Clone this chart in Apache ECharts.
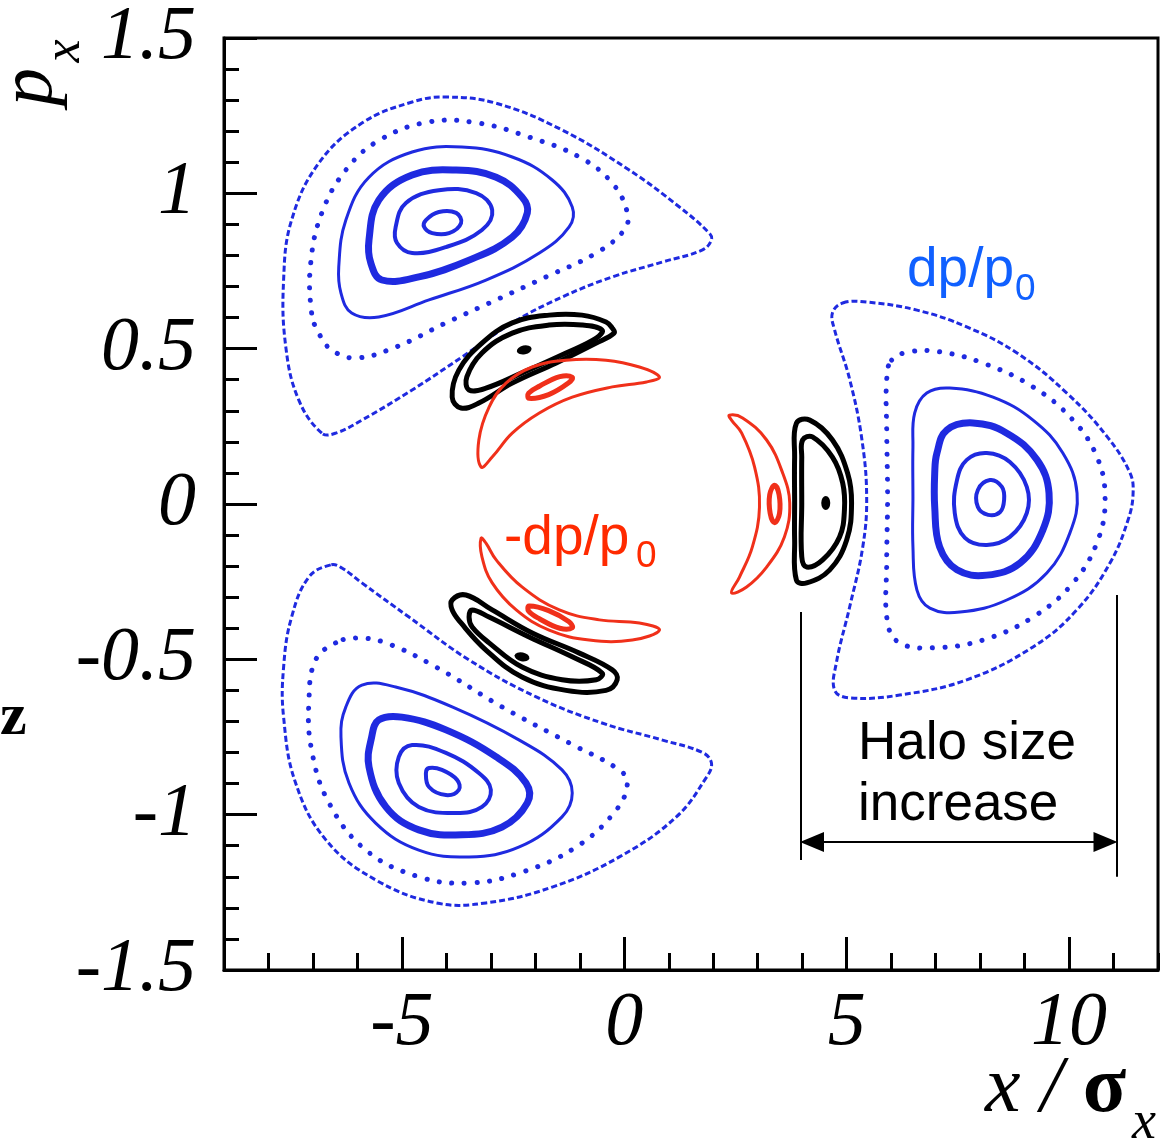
<!DOCTYPE html>
<html><head><meta charset="utf-8">
<script src="https://cdn.jsdelivr.net/npm/echarts@6/dist/echarts.min.js"></script>
<style>html,body{margin:0;padding:0;background:#fff}#c{width:1170px;height:1143px}</style>
</head><body><div id="c"></div><script>
// ---------- axis ticks ----------
const xMajorTicks = [-5, 0, 5, 10];
const yTickValues = [-1.5, -1, -0.5, 0, 0.5, 1, 1.5];

// ---------- blue (dp/p0) orbits: right island ----------
const bR1 = [[8.22,0.077],[8.49,0.055],[8.54,0.013],[8.45,-0.026],[8.18,-0.035],[7.95,-0.01],[7.95,0.045]];
const bR2 = [[7.48,0.077],[7.70,0.142],[8.15,0.164],[8.67,0.135],[9.05,0.055],[9.05,-0.029],[8.67,-0.106],[8.15,-0.132],[7.66,-0.109],[7.43,-0.029]];
const bR3 = [[7.03,0.164],[7.25,0.238],[7.84,0.261],[8.60,0.228],[9.28,0.142],[9.55,0.035],[9.41,-0.084],[8.90,-0.19],[8.15,-0.229],[7.48,-0.212],[7.09,-0.138],[6.98,-0.01],[6.98,0.10]];
const bR4 = [[6.53,0.293],[6.80,0.357],[7.32,0.373],[8.29,0.344],[9.19,0.27],[9.86,0.164],[10.18,0.035],[10.02,-0.093],[9.50,-0.222],[8.60,-0.309],[7.55,-0.348],[6.87,-0.335],[6.58,-0.277],[6.49,-0.138],[6.49,0.023],[6.49,0.183]];
const bR5 = [[6.01,0.463],[6.42,0.49],[7.09,0.49],[8.06,0.454],[9.19,0.377],[10.09,0.27],[10.63,0.151],[10.81,0.023],[10.65,-0.116],[10.09,-0.254],[9.19,-0.364],[8.06,-0.438],[6.94,-0.463],[6.19,-0.447],[5.92,-0.383],[5.90,-0.19],[5.92,0.023],[5.90,0.238],[5.90,0.40]];
const bR6 = [[4.91,0.647],[5.45,0.650],[6.58,0.624],[7.70,0.570],[8.83,0.486],[9.95,0.357],[10.86,0.216],[11.37,0.10],[11.44,0.035],[11.33,-0.05],[10.92,-0.19],[10.18,-0.34],[9.19,-0.46],[7.70,-0.566],[6.19,-0.615],[5.07,-0.624],[4.73,-0.60],[4.77,-0.51],[5.07,-0.33],[5.36,-0.14],[5.45,0.02],[5.34,0.21],[5.07,0.40],[4.73,0.56],[4.68,0.615]];

// ---------- blue orbits: upper-left island ----------
const bU1 = [[-4.46,0.914],[-4.17,0.94],[-3.78,0.937],[-3.67,0.904],[-3.94,0.872],[-4.32,0.872],[-4.50,0.892]];
const bU2 = [[-5.14,0.892],[-4.91,0.969],[-4.17,1.01],[-3.33,1.001],[-2.97,0.946],[-3.20,0.882],[-4.01,0.827],[-4.77,0.808],[-5.11,0.84]];
const bU3 = [[-5.74,0.85],[-5.52,0.978],[-4.77,1.059],[-3.78,1.075],[-2.88,1.052],[-2.30,0.988],[-2.18,0.937],[-2.52,0.859],[-3.49,0.785],[-4.62,0.731],[-5.45,0.721],[-5.70,0.776]];
const bU4 = [[-6.42,0.763],[-6.26,0.914],[-5.74,1.052],[-4.77,1.133],[-3.65,1.149],[-2.52,1.117],[-1.62,1.043],[-1.17,0.956],[-1.24,0.892],[-1.91,0.808],[-3.11,0.721],[-4.39,0.657],[-5.52,0.602],[-6.13,0.615],[-6.37,0.679]];
const bU5 = [[-7.03,0.615],[-7.05,0.776],[-6.80,0.937],[-6.26,1.075],[-5.52,1.17],[-4.39,1.23],[-3.27,1.226],[-2.14,1.181],[-1.01,1.117],[-0.27,1.033],[0.07,0.937],[0.0,0.882],[-0.63,0.808],[-1.76,0.731],[-2.88,0.657],[-4.01,0.583],[-5.14,0.505],[-6.04,0.47],[-6.58,0.496],[-6.87,0.55]];
const bU6 = [[-6.80,0.228],[-7.32,0.335],[-7.61,0.505],[-7.66,0.721],[-7.48,0.914],[-6.87,1.097],[-5.90,1.226],[-4.77,1.294],[-4.01,1.31],[-2.88,1.29],[-1.40,1.204],[0.11,1.075],[1.24,0.956],[1.91,0.872],[1.96,0.85],[1.76,0.818],[0.86,0.779],[-0.27,0.731],[-1.40,0.666],[-2.52,0.583],[-3.65,0.473],[-4.77,0.367],[-5.90,0.27],[-6.49,0.228]];

// ---------- blue orbits: lower-left island ----------
const bL1 = [[-4.46,-0.866],[-4.39,-0.911],[-4.01,-0.937],[-3.72,-0.92],[-3.76,-0.888],[-4.10,-0.856],[-4.39,-0.85]];
const bL2 = [[-5.07,-0.814],[-5.07,-0.898],[-4.62,-0.975],[-3.78,-0.995],[-3.20,-0.975],[-3.0,-0.92],[-3.27,-0.866],[-4.01,-0.801],[-4.77,-0.776]];
const bL3 = [[-5.68,-0.75],[-5.74,-0.846],[-5.36,-0.975],[-4.62,-1.049],[-3.65,-1.065],[-2.75,-1.04],[-2.18,-0.962],[-2.21,-0.898],[-2.88,-0.814],[-4.01,-0.727],[-5.0,-0.686],[-5.52,-0.695]];
const bL4 = [[-6.26,-0.653],[-6.37,-0.75],[-6.19,-0.898],[-5.59,-1.027],[-4.62,-1.114],[-3.49,-1.136],[-2.36,-1.104],[-1.40,-1.007],[-1.17,-0.93],[-1.40,-0.856],[-2.36,-0.76],[-3.87,-0.653],[-5.14,-0.589],[-5.90,-0.583]];
const bL5 = [[-6.49,-0.447],[-6.94,-0.502],[-7.09,-0.631],[-7.03,-0.792],[-6.64,-0.962],[-5.81,-1.114],[-4.62,-1.20],[-3.49,-1.22],[-2.36,-1.188],[-1.08,-1.104],[-0.18,-0.985],[0.07,-0.898],[-0.11,-0.856],[-1.24,-0.769],[-2.75,-0.653],[-4.23,-0.525],[-5.36,-0.447],[-6.04,-0.431]];
const bL6 = [[-6.60,-0.196],[-7.09,-0.235],[-7.48,-0.364],[-7.66,-0.525],[-7.66,-0.686],[-7.39,-0.898],[-6.71,-1.081],[-5.59,-1.21],[-4.23,-1.284],[-3.11,-1.284],[-1.62,-1.233],[-0.11,-1.136],[1.17,-1.007],[1.85,-0.879],[1.96,-0.834],[1.76,-0.80],[0.86,-0.76],[-0.50,-0.705],[-1.98,-0.621],[-3.49,-0.502],[-4.84,-0.364],[-5.90,-0.254],[-6.35,-0.206]];

// ---------- black orbits ----------
const kU1 = [[-0.27,0.566],[-0.41,0.586],[-0.95,0.608],[-1.69,0.608],[-2.52,0.583],[-3.20,0.518],[-3.72,0.431],[-3.87,0.344],[-3.67,0.309],[-3.27,0.325],[-2.52,0.389],[-1.53,0.454],[-0.63,0.518],[-0.23,0.55]];
const kU2 = [[-0.50,0.56],[-0.95,0.576],[-1.69,0.576],[-2.52,0.55],[-3.20,0.486],[-3.54,0.409],[-3.49,0.367],[-3.11,0.373],[-2.30,0.422],[-1.31,0.486],[-0.63,0.534]];
const kL1 = [[-3.87,-0.309],[-3.56,-0.293],[-2.97,-0.341],[-2.07,-0.415],[-1.01,-0.48],[-0.27,-0.534],[-0.16,-0.566],[-0.41,-0.60],[-1.31,-0.60],[-2.30,-0.557],[-3.11,-0.47],[-3.67,-0.383],[-3.87,-0.341]];
const kL2 = [[-3.42,-0.341],[-3.04,-0.364],[-2.14,-0.428],[-1.17,-0.492],[-0.50,-0.544],[-0.63,-0.566],[-1.40,-0.566],[-2.30,-0.525],[-3.04,-0.447],[-3.42,-0.396],[-3.49,-0.364]];
const kR1 = [[3.87,0.26],[4.17,0.27],[4.68,0.206],[5.02,0.10],[5.11,0.003],[5.0,-0.116],[4.62,-0.212],[4.10,-0.254],[3.87,-0.245],[3.83,-0.116],[3.83,0.003],[3.83,0.151]];
const kR2 = [[4.01,0.206],[4.23,0.216],[4.68,0.151],[4.91,0.068],[4.95,-0.019],[4.84,-0.106],[4.46,-0.18],[4.10,-0.203],[3.99,-0.17],[3.99,0.003],[3.99,0.151]];
const kDots = [[-2.25,0.496],[-2.30,-0.492],[4.53,0.003]];

// ---------- red (-dp/p0) orbits ----------
const rU1 = [[0.79,0.409],[0.34,0.441],[-0.41,0.463],[-1.31,0.463],[-2.07,0.441],[-2.66,0.389],[-3.04,0.312],[-3.27,0.206],[-3.22,0.119],[-2.97,0.151],[-2.52,0.228],[-1.91,0.293],[-1.17,0.344],[-0.27,0.377],[0.50,0.393]];
const rU2 = [[-2.14,0.34],[-1.7,0.352],[-1.25,0.39],[-1.17,0.408],[-1.45,0.41],[-1.9,0.38],[-2.15,0.357]];
const rL1 = [[-3.22,-0.11],[-3.20,-0.17],[-2.97,-0.254],[-2.43,-0.341],[-1.69,-0.406],[-0.79,-0.438],[0.18,-0.438],[0.79,-0.406],[0.34,-0.383],[-0.56,-0.373],[-1.46,-0.341],[-2.30,-0.267],[-2.88,-0.18],[-3.11,-0.126]];
const rL2 = [[-2.14,-0.328],[-1.7,-0.343],[-1.25,-0.378],[-1.17,-0.398],[-1.45,-0.4],[-1.9,-0.37],[-2.15,-0.345]];
const rR1 = [[2.36,0.286],[2.66,0.277],[3.20,0.206],[3.56,0.10],[3.72,0.003],[3.60,-0.106],[3.20,-0.203],[2.75,-0.267],[2.41,-0.286],[2.59,-0.235],[2.88,-0.138],[3.04,-0.01],[2.93,0.119],[2.64,0.228],[2.41,0.27]];
const rR2 = [[3.38,0.06],[3.48,0.03],[3.49,-0.03],[3.38,-0.06],[3.28,-0.03],[3.27,0.03]];

// ---------- halo annotation ----------
const haloLeft = [[3.96,-0.348],[3.96,-1.146]];
const haloRight = [[11.08,-0.293],[11.08,-1.200]];
const haloArrow = [[4.22,-1.088],[10.82,-1.088]];

// ---------- styles ----------
const BLUE = '#1f2ae0', RED = '#f0301a', BLACK = '#000000';
const ring = [
  {w:4}, {w:4}, {w:7}, {w:3},
  {w:5, dash:[0.1, 12.5], cap:'round'},
  {w:3, dash:[6, 3]}
];
const curves = [];
[[bR1,bR2,bR3,bR4,bR5,bR6],[bU1,bU2,bU3,bU4,bU5,bU6],[bL1,bL2,bL3,bL4,bL5,bL6]].forEach(set => {
  set.forEach((pts, i) => curves.push(Object.assign({pts, color: BLUE}, ring[i])));
});
[kU1,kU2,kL1,kL2,kR1,kR2].forEach(pts => curves.push({pts, color: BLACK, w: 5}));
[rU1,rL1,rR1].forEach(pts => curves.push({pts, color: RED, w: 3}));
[rU2,rL2,rR2].forEach(pts => curves.push({pts, color: RED, w: 5}));

function curveSeries(c) {
  return {
    type: 'custom', coordinateSystem: 'cartesian2d', data: c.pts, silent: true, clip: false,
    renderItem: function (params, api) {
      if (params.dataIndex !== 0) return;
      const points = c.pts.map(p => api.coord(p));
      return {
        type: 'polygon',
        shape: { points: points, smooth: 0.4 },
        style: { fill: null, stroke: c.color, lineWidth: c.w, lineDash: c.dash || null, lineCap: c.cap || 'butt', lineJoin: 'round' }
      };
    }
  };
}

const series = curves.map(curveSeries);
series.push({
  type: 'scatter', data: kDots, silent: true,
  symbol: 'circle',
  symbolSize: (v, p) => p.dataIndex === 2 ? [9, 14] : [15, 9],
  symbolRotate: (v, p) => p.dataIndex === 0 ? 12 : (p.dataIndex === 1 ? -12 : 0),
  itemStyle: { color: BLACK, opacity: 1 }
});
series.push({
  type: 'line', data: [], silent: true,
  markLine: {
    silent: true, animation: false,
    symbol: 'none',
    label: { show: false },
    lineStyle: { color: BLACK, width: 2, type: 'solid' },
    emphasis: { disabled: true },
    data: [
      [{ coord: haloLeft[0] }, { coord: haloLeft[1] }],
      [{ coord: haloRight[0] }, { coord: haloRight[1] }],
      [{ coord: haloArrow[0], symbol: 'triangle', symbolSize: [20, 24] }, { coord: haloArrow[1], symbol: 'triangle', symbolSize: [20, 24] }]
    ]
  }
});

const tickFont = { fontFamily: 'Liberation Serif', fontStyle: 'italic', fontSize: 76, color: '#000' };

const option = {
  animation: false,
  backgroundColor: '#fff',
  grid: { left: 224, right: 12, top: 38, bottom: 173, show: true, borderColor: '#000', borderWidth: 3, backgroundColor: 'transparent' },
  xAxis: [
    {
      type: 'value', min: -9, max: 12, position: 'bottom',
      axisLine: { show: true, onZero: false, lineStyle: { color: '#000', width: 3 } },
      axisTick: { show: true, inside: true, length: 33, lineStyle: { color: '#000', width: 3 }, customValues: xMajorTicks },
      axisLabel: Object.assign({ customValues: xMajorTicks, margin: 16 }, tickFont),
      splitLine: { show: false }
    },
    {
      type: 'value', min: -9, max: 12, interval: 1, position: 'bottom',
      axisLine: { show: false, onZero: false },
      axisTick: { show: true, inside: true, length: 17, lineStyle: { color: '#000', width: 3 } },
      axisLabel: { show: false },
      splitLine: { show: false }
    }
  ],
  yAxis: {
    type: 'value', min: -1.5, max: 1.5, interval: 0.5,
    axisLine: { show: true, onZero: false, lineStyle: { color: '#000', width: 3 } },
    axisTick: { show: true, inside: true, length: 33, lineStyle: { color: '#000', width: 3 } },
    minorTick: { show: true, splitNumber: 5, length: 15, lineStyle: { color: '#000', width: 3 } },
    axisLabel: Object.assign({ margin: 28, formatter: v => String(v) }, tickFont),
    splitLine: { show: false }
  },
  graphic: [
    { type: 'text', x: 31, y: 87, rotation: Math.PI / 2, silent: true,
      style: { text: 'p', font: 'italic 76px "Liberation Serif"', fill: '#000', align: 'center', verticalAlign: 'middle', textAlign: 'center', textVerticalAlign: 'middle' } },
    { type: 'text', x: 65, y: 51, rotation: Math.PI / 2, silent: true,
      style: { text: 'x', font: 'italic 52px "Liberation Serif"', fill: '#000', align: 'center', verticalAlign: 'middle', textAlign: 'center', textVerticalAlign: 'middle' } },
    { type: 'text', x: 0, y: 718, silent: true,
      style: { text: 'z', font: 'bold 60px "Liberation Serif"', fill: '#000', align: 'left', verticalAlign: 'middle', textAlign: 'left', textVerticalAlign: 'middle' } },
    { type: 'text', x: 985, y: 1090, silent: true,
      style: { text: '{i|x}{n| / }{b|σ}', fill: '#000', align: 'left', verticalAlign: 'middle', textAlign: 'left', textVerticalAlign: 'middle',
        rich: { i: { fontFamily: 'Liberation Serif', fontStyle: 'italic', fontSize: 80, fill: '#000' },
                n: { fontFamily: 'Liberation Serif', fontStyle: 'italic', fontSize: 80, fill: '#000' },
                b: { fontFamily: 'Liberation Serif', fontWeight: 'bold', fontSize: 80, fill: '#000' } } } },
    { type: 'text', x: 1132, y: 1124, silent: true,
      style: { text: 'x', font: 'italic 54px "Liberation Serif"', fill: '#000', align: 'left', verticalAlign: 'middle', textAlign: 'left', textVerticalAlign: 'middle' } },
    { type: 'text', x: 907, y: 271, silent: true,
      style: { text: 'dp/p', font: '55px "Liberation Sans"', fill: '#1060ff', align: 'left', verticalAlign: 'middle', textAlign: 'left', textVerticalAlign: 'middle' } },
    { type: 'text', x: 1015, y: 290, silent: true,
      style: { text: '0', font: '37px "Liberation Sans"', fill: '#1060ff', align: 'left', verticalAlign: 'middle', textAlign: 'left', textVerticalAlign: 'middle' } },
    { type: 'text', x: 504, y: 539, silent: true,
      style: { text: '-dp/p', font: '55px "Liberation Sans"', fill: '#ff2a00', align: 'left', verticalAlign: 'middle', textAlign: 'left', textVerticalAlign: 'middle' } },
    { type: 'text', x: 636, y: 557, silent: true,
      style: { text: '0', font: '37px "Liberation Sans"', fill: '#ff2a00', align: 'left', verticalAlign: 'middle', textAlign: 'left', textVerticalAlign: 'middle' } },
    { type: 'text', x: 858, y: 744, silent: true,
      style: { text: 'Halo size', font: '53px "Liberation Sans"', fill: '#000', align: 'left', verticalAlign: 'middle', textAlign: 'left', textVerticalAlign: 'middle' } },
    { type: 'text', x: 858, y: 805, silent: true,
      style: { text: 'increase', font: '53px "Liberation Sans"', fill: '#000', align: 'left', verticalAlign: 'middle', textAlign: 'left', textVerticalAlign: 'middle' } }
  ],
  series: series
};

const chart = echarts.init(document.getElementById('c'), null, { renderer: 'canvas' });
chart.setOption(option);
</script></body></html>
